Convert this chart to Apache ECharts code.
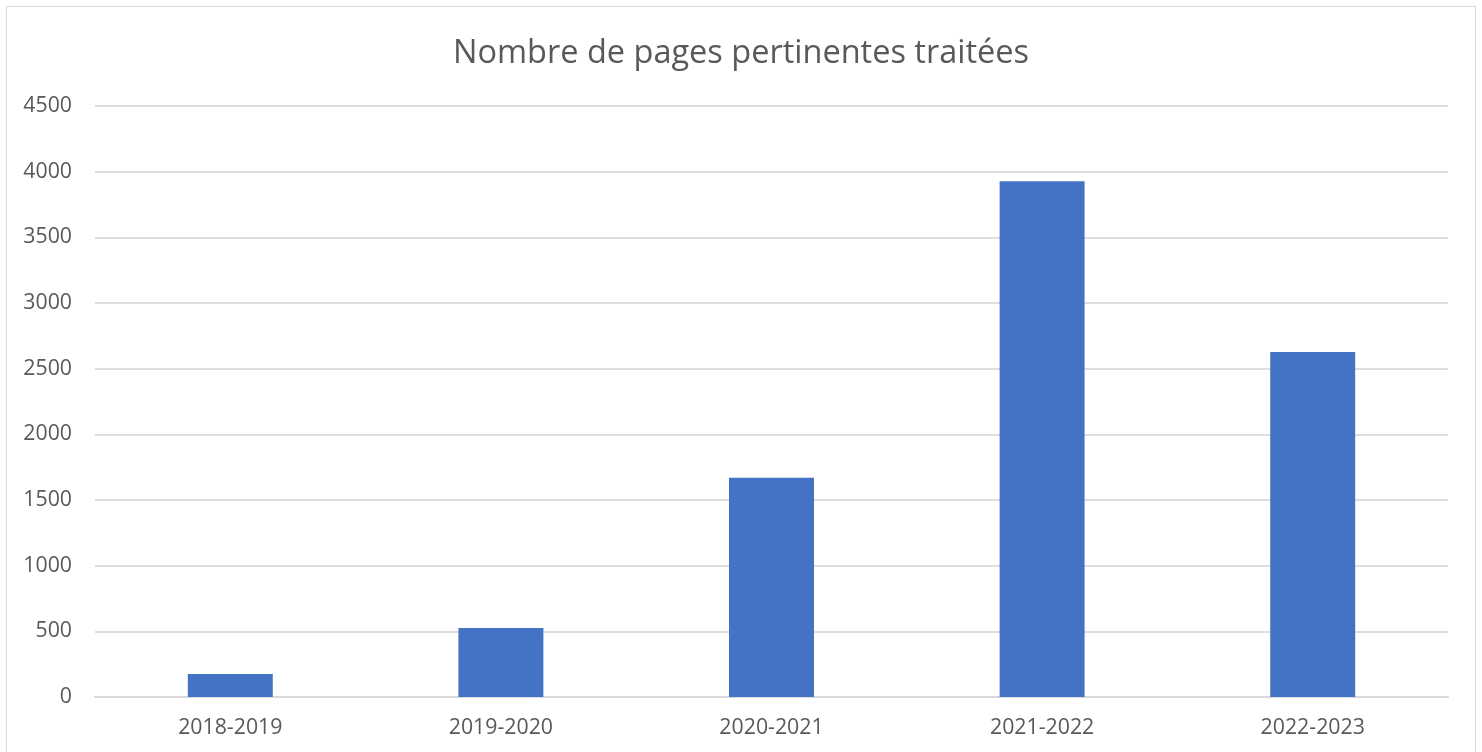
<!DOCTYPE html>
<html>
<head>
<meta charset="utf-8">
<script src="https://cdn.jsdelivr.net/npm/echarts@6/dist/echarts.min.js"></script>
<style>
html,body{margin:0;padding:0;background:#fff;}
#frame{position:absolute;left:6px;top:6px;width:1470px;height:800px;border:1px solid #d9d9d9;box-sizing:border-box;}
#chart{position:absolute;left:0;top:0;width:1482px;height:752px;}
</style>
</head>
<body>
<div id="frame"></div>
<div id="chart"></div>
<script>
const categories = ['2018-2019','2019-2020','2020-2021','2021-2022','2022-2023'];
const values = [175, 525, 1670, 3927, 2627];
const yTicks = { min: 0, max: 4500, interval: 500 };
const titleText = 'Nombre de pages pertinentes traitées';

const chart = echarts.init(document.getElementById('chart'));
chart.setOption({
  animation: false,
  textStyle: { fontFamily: 'Open Sans' },
  title: {
    text: titleText,
    left: 'center',
    top: 32,
    textStyle: { fontFamily: 'Open Sans', fontSize: 32.5, fontWeight: 'normal', color: '#595959' }
  },
  grid: { left: 95, right: 34, top: 106, bottom: 55, containLabel: false },
  xAxis: {
    type: 'category',
    data: categories,
    axisLine: { show: true, lineStyle: { color: '#d9d9d9', width: 2 } },
    axisTick: { show: false },
    axisLabel: { color: '#595959', fontSize: 21.3, margin: 20, fontFamily: 'Open Sans' }
  },
  yAxis: {
    type: 'value',
    min: yTicks.min, max: yTicks.max, interval: yTicks.interval,
    axisLine: { show: false },
    axisTick: { show: false },
    splitLine: { lineStyle: { color: '#dedede', width: 2 } },
    axisLabel: { color: '#595959', fontSize: 21.3, margin: 23, fontFamily: 'Open Sans', formatter: v => String(v) }
  },
  series: [{
    type: 'bar',
    data: values,
    barWidth: '31.4%',
    itemStyle: { color: '#4472C4' }
  }]
});
</script>
</body>
</html>
